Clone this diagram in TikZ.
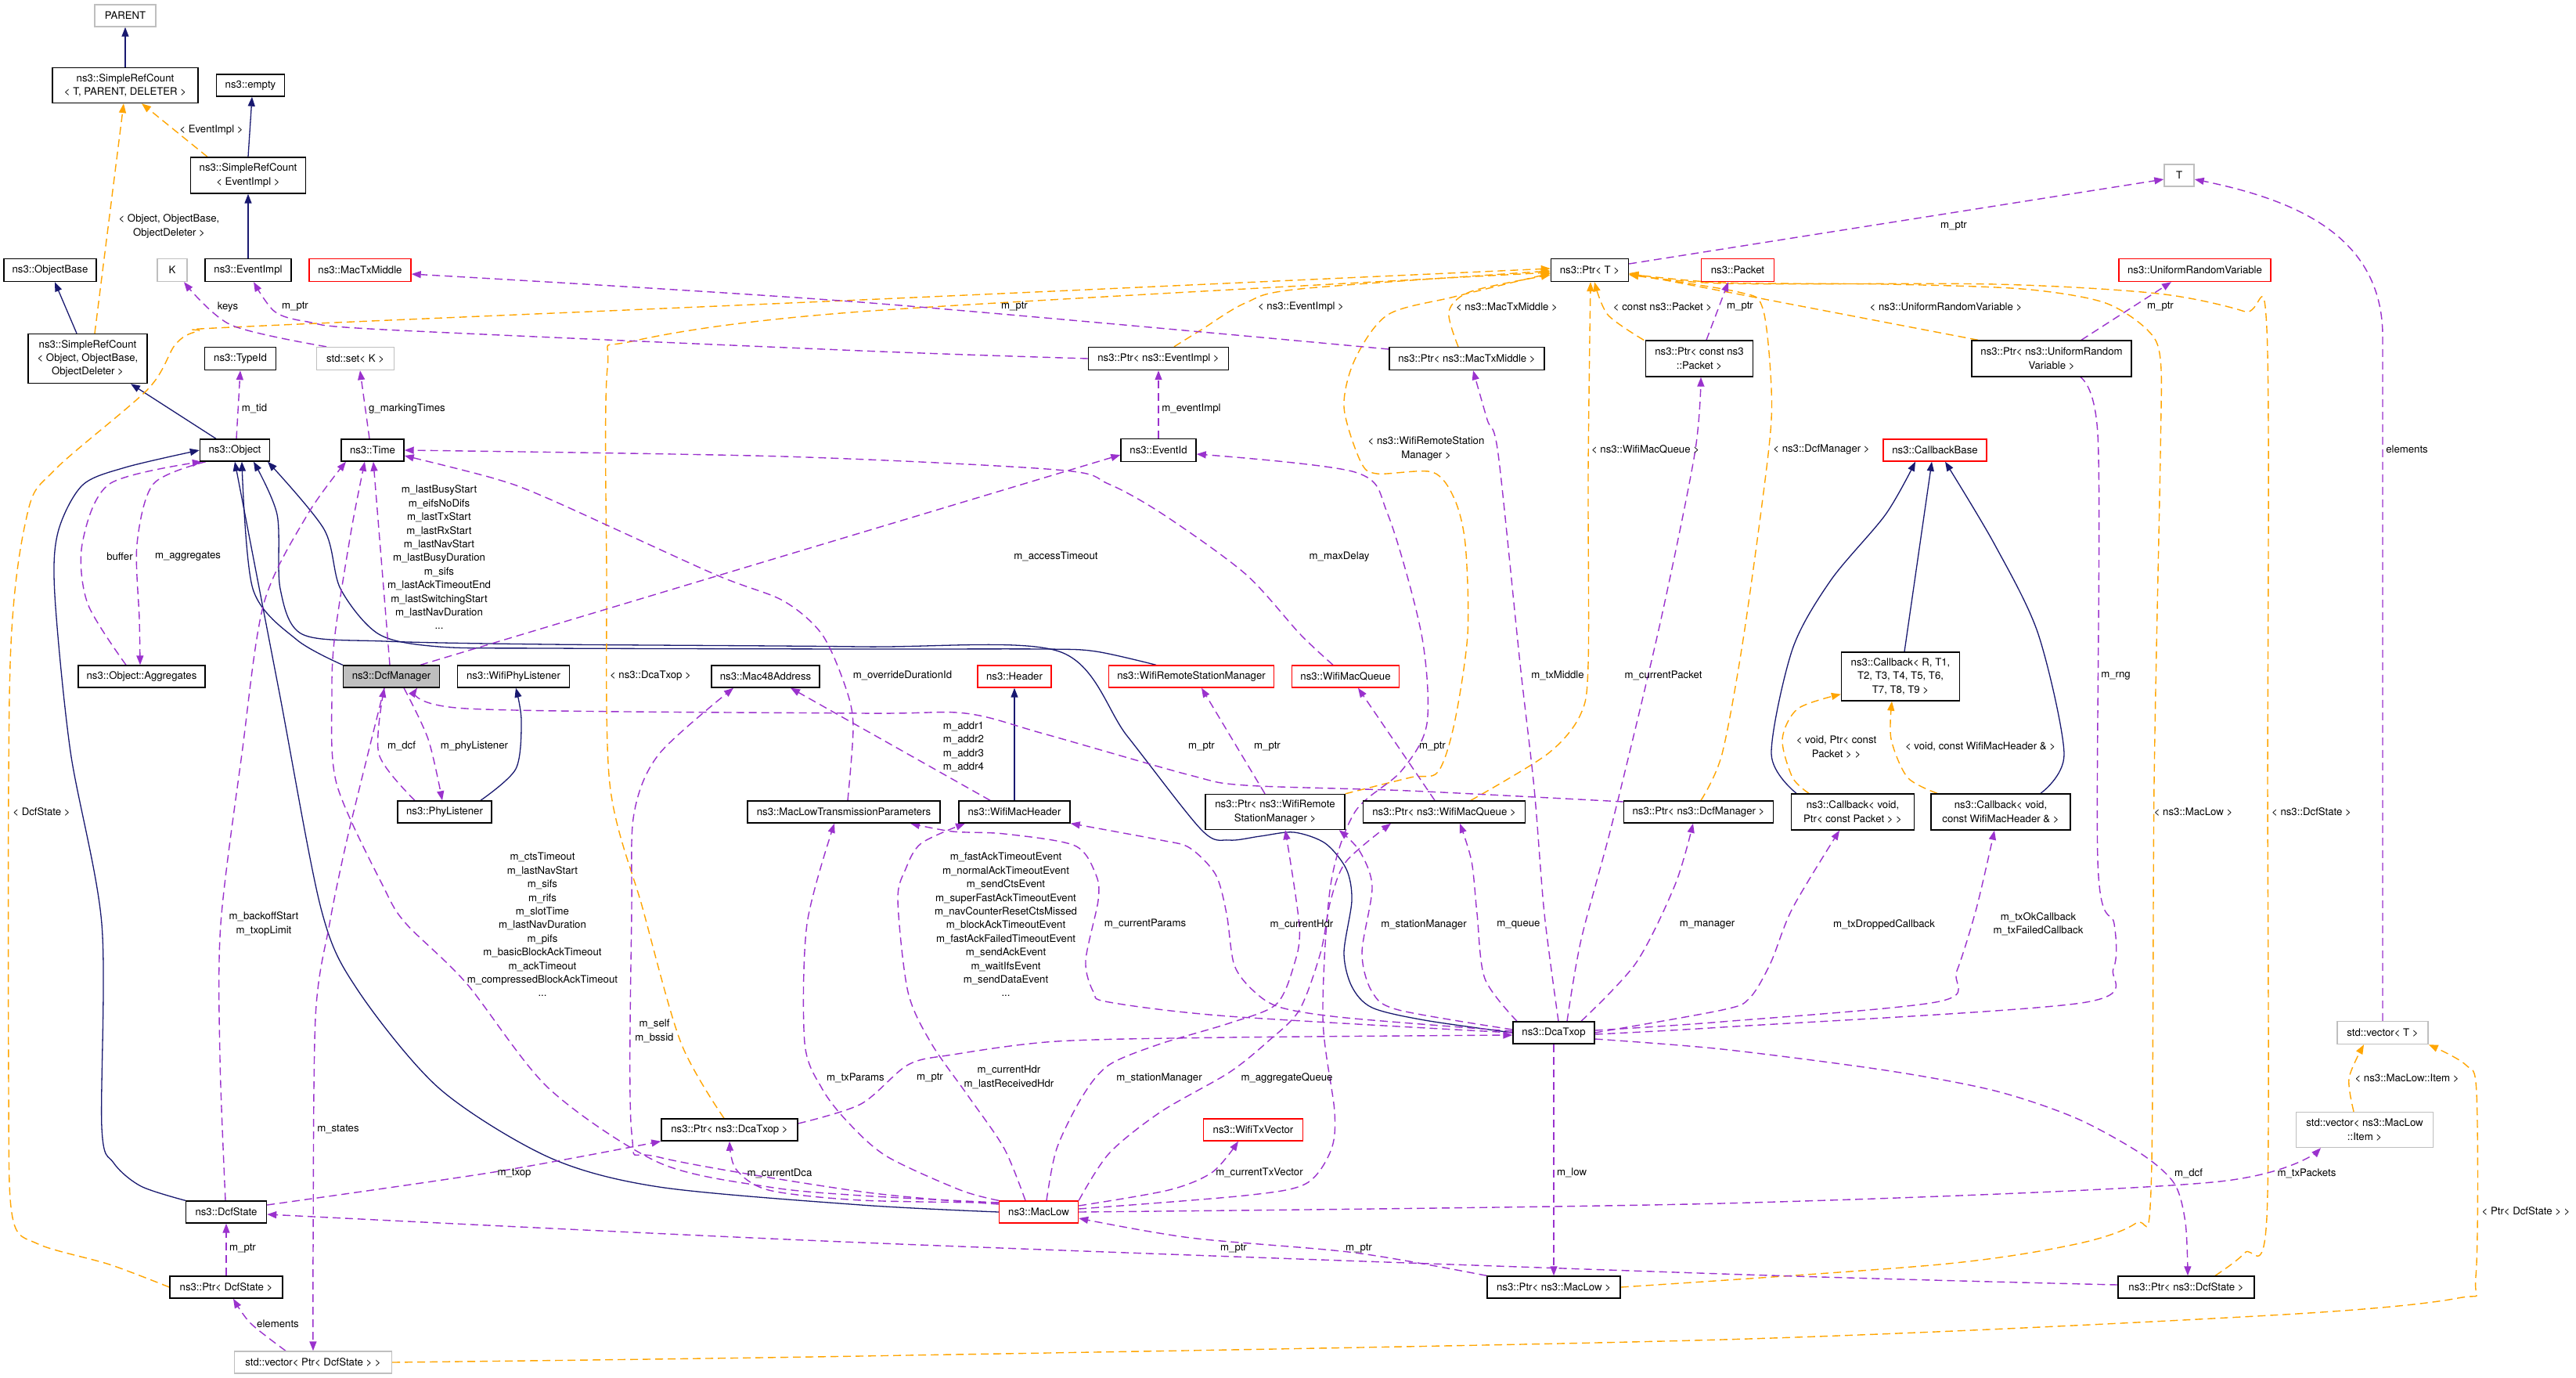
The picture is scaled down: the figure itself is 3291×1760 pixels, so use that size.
\documentclass[tikz,border=0pt]{standalone}
\usepackage{fontspec}
\setmainfont{TeX Gyre Heros}
\usetikzlibrary{arrows.meta}
\definecolor{navyc}{HTML}{191970}
\definecolor{purpc}{HTML}{9A32CD}
\definecolor{orngc}{HTML}{FFA500}
\definecolor{grayc}{HTML}{BFBFBF}
\definecolor{redc}{HTML}{FF0000}
\pgfdeclarelayer{edgelayer}
\pgfsetlayers{edgelayer,main}
\newcommand{\nfont}{\fontsize{13.2pt}{17.4pt}\selectfont}
\newcommand{\mkcls}[6]{\node[#1, minimum width=#2pt, minimum height=#3pt] (#4) at (#5) {#6};}
\newcommand{\mklbl}[3]{\node[lbl] (#1) at (#2) {#3};}
\tikzset{
  boxN/.style={draw=black, line width=1.4pt, fill=white, inner sep=0pt, align=center, font=\nfont},
  redN/.style={boxN, draw=redc},
  grayN/.style={boxN, draw=grayc},
  selN/.style={boxN, fill=grayc},
  lbl/.style={inner sep=0pt, align=center, font=\nfont},
  inhE/.style={draw=navyc, line width=1.3pt, -{Triangle[length=12pt,width=9pt]}},
  useE/.style={draw=purpc, line width=1.4pt, dash pattern=on 10pt off 6pt, -{Triangle[length=12pt,width=9pt]}},
  tplE/.style={draw=orngc, line width=1.4pt, dash pattern=on 10pt off 6pt, -{Triangle[length=12pt,width=9pt]}},
}
\begin{document}
\begin{tikzpicture}[x=1pt,y=-1pt]
\useasboundingbox (0,0) rectangle (3291,1760);
% ---------------- nodes
\mkcls{grayN}{78}{28}{parent}{160,20}{PARENT}
\mkcls{boxN}{186}{45}{srcT}{160,109}{ns3::SimpleRefCount\\< T, PARENT, DELETER >}
\mkcls{boxN}{87}{28}{empty}{320,109}{ns3::empty}
\mkcls{boxN}{147}{46}{srcE}{317,224}{ns3::SimpleRefCount\\< EventImpl >}
\mkcls{boxN}{118}{29}{objbase}{64,345}{ns3::ObjectBase}
\mkcls{grayN}{38}{29}{K}{220,345}{K}
\mkcls{boxN}{110}{29}{eventimpl}{317,345}{ns3::EventImpl}
\mkcls{redN}{130}{29}{mactxmiddle}{460,345}{ns3::MacTxMiddle}
\mkcls{boxN}{152}{63}{srcO}{112,458}{ns3::SimpleRefCount\\< Object, ObjectBase,\\ObjectDeleter >}
\mkcls{boxN}{91}{29}{typeid}{307,458}{ns3::TypeId}
\mkcls{grayN}{99}{29}{setK}{454,458}{std::set< K >}
\mkcls{boxN}{89}{28}{object}{300,575}{ns3::Object}
\mkcls{boxN}{80}{28}{time}{476,575}{ns3::Time}
\mkcls{grayN}{38}{28}{T}{2784,224}{T}
\mkcls{boxN}{99}{29}{ptrT}{2031,345}{ns3::Ptr< T >}
\mkcls{redN}{93}{29}{packet}{2220,345}{ns3::Packet}
\mkcls{redN}{194}{29}{urv}{2804,345}{ns3::UniformRandomVariable}
\mkcls{boxN}{179}{29}{ptrEI}{1480,458}{ns3::Ptr< ns3::EventImpl >}
\mkcls{boxN}{198}{29}{ptrMTM}{1874,458}{ns3::Ptr< ns3::MacTxMiddle >}
\mkcls{boxN}{137}{46}{ptrCP}{2171,458}{ns3::Ptr< const ns3\\::Packet >}
\mkcls{boxN}{204}{46}{ptrURV}{2621,458}{ns3::Ptr< ns3::UniformRandom\\Variable >}
\mkcls{boxN}{96}{29}{eventid}{1480,575}{ns3::EventId}
\mkcls{redN}{132}{28}{cbbase}{2472,575}{ns3::CallbackBase}
\mkcls{boxN}{162}{28}{aggregates}{181,864}{ns3::Object::Aggregates}
\mkcls{selN}{123}{28}{dcfmanager}{500,864}{ns3::DcfManager}
\mkcls{boxN}{143}{28}{wifiphylistener}{656,864}{ns3::WifiPhyListener}
\mkcls{boxN}{138}{28}{mac48}{978,864}{ns3::Mac48Address}
\mkcls{redN}{94}{28}{header}{1296,864}{ns3::Header}
\mkcls{redN}{211}{28}{wrsm}{1522,864}{ns3::WifiRemoteStationManager}
\mkcls{redN}{137}{28}{wmq}{1719,864}{ns3::WifiMacQueue}
\mkcls{boxN}{151}{62}{cbR}{2428,864}{ns3::Callback< R, T1,\\T2, T3, T4, T5, T6,\\T7, T8, T9 >}
\mkcls{boxN}{120}{28}{phylistener}{568,1037}{ns3::PhyListener}
\mkcls{boxN}{246}{28}{mltp}{1078,1037}{ns3::MacLowTransmissionParameters}
\mkcls{boxN}{142}{28}{wifimacheader}{1296,1037}{ns3::WifiMacHeader}
\mkcls{boxN}{178}{45}{ptrWRSM}{1629,1037}{ns3::Ptr< ns3::WifiRemote\\StationManager >}
\mkcls{boxN}{207}{28}{ptrWMQ}{1845,1037}{ns3::Ptr< ns3::WifiMacQueue >}
\mkcls{boxN}{191}{28}{ptrDM}{2170,1037}{ns3::Ptr< ns3::DcfManager >}
\mkcls{boxN}{157}{46}{cbP}{2367,1037}{ns3::Callback< void,\\Ptr< const Packet > >}
\mkcls{boxN}{178}{46}{cbH}{2556,1037}{ns3::Callback< void,\\const WifiMacHeader \& >}
\mkcls{boxN}{104}{28}{dcatxop}{1985,1319}{ns3::DcaTxop}
\mkcls{grayN}{116}{29}{vecT}{3044,1319}{std::vector< T >}
\mkcls{boxN}{174}{28}{ptrDT}{932,1443}{ns3::Ptr< ns3::DcaTxop >}
\mkcls{redN}{127}{28}{wifitxvector}{1601,1443}{ns3::WifiTxVector}
\mkcls{grayN}{175}{45}{vecItem}{3021,1443}{std::vector< ns3::MacLow\\::Item >}
\mkcls{boxN}{103}{28}{dcfstate}{289,1548}{ns3::DcfState}
\mkcls{redN}{101}{28}{maclow}{1327,1548}{ns3::MacLow}
\mkcls{boxN}{144}{28}{ptrDS}{289,1644}{ns3::Ptr< DcfState >}
\mkcls{boxN}{170}{28}{ptrML}{1985,1644}{ns3::Ptr< ns3::MacLow >}
\mkcls{boxN}{174}{28}{ptrNDS}{2793,1644}{ns3::Ptr< ns3::DcfState >}
\mkcls{grayN}{201}{28}{vecDS}{400,1740}{std::vector< Ptr< DcfState > >}
% ---------------- edges
\begin{pgfonlayer}{edgelayer}
\fill[white] (0,0) rectangle (3291,1760);
% inheritance
\draw[inhE] (srcT.north) -- (parent.south);
\draw[inhE] (srcE.north) -- ([xshift=2pt]empty.south);
\draw[inhE] (eventimpl.north) -- (srcE.south);
\draw[inhE] ([xshift=-14pt]srcO.north) -- ([xshift=6pt]objbase.south);
\draw[inhE] ([xshift=-24pt]object.north) -- ([xshift=55pt]srcO.south);
\draw[inhE] plot[smooth] coordinates {(dcfmanager.north west) (379,817) (323,752) ([xshift=9pt]object.south)};
\draw[inhE] plot[smooth] coordinates {(maclow.west) (1100,1539) (842,1516) (701,1478) (561,1390) (456,1263) (410,1160) (356,880) (object.south)};
\draw[inhE] plot[smooth] coordinates {(dcatxop.west) (1820,1303) (1753,1287) (1727,1260) (1717,1217) (1727,1150) (1720,1110) (1693,1077) (1653,1063) (1610,1068) (1570,1073) (1535,1060) (1440,940) (1353,832) (1100,826) (701,823) (491,819) (386,810) (358,752) (354,657) ([xshift=24pt]object.south)};
\draw[inhE] plot[smooth] coordinates {([xshift=-45pt]wrsm.north) (1400,832) (1333,829) (1100,829) (701,828) (561,826) (484,810) (435,752) (414,676) ([xshift=42pt]object.south)};
\draw[inhE] plot[smooth] coordinates {(dcfstate.north west) (180,1515) (145,1485) (130,1440) (130,1180) (90,960) (70,760) (74,680) (105,620) (160,597) (object.west)};
\draw[inhE] plot[smooth] coordinates {([xshift=46pt]phylistener.north) (659,982) (666,920) ([xshift=3pt]wifiphylistener.south)};
\draw[inhE] (wifimacheader.north) -- (header.south);
\draw[inhE] ([xshift=5pt]cbR.north) -- ([xshift=-4pt]cbbase.south);
\draw[inhE] plot[smooth] coordinates {([xshift=-72pt]cbP.north) (2263,963) (2290,829) (2339,741) (2409,657) ([xshift=-25pt]cbbase.south)};
\draw[inhE] plot[smooth] coordinates {([xshift=51pt]cbH.north) (2637,963) (2604,810) (2548,695) ([xshift=13pt]cbbase.south)};
% templates
\draw[tplE] ([xshift=-52pt]srcE.north) -- ([xshift=21pt]srcT.south);
\draw[tplE] ([xshift=9pt]srcO.north) -- ([xshift=-2pt]srcT.south);
\draw[tplE] plot[smooth] coordinates {(ptrDS.west) (140,1615) (49,1589) (16,1555) (11,1390) (13,848) (35,656) (70,600) (189,497) (224,440) (253,423) (316,417) (1100,383) ([yshift=2pt]ptrT.west)};
\draw[tplE] plot[smooth] coordinates {([xshift=-7pt]ptrDT.north) (870,1332) (821,1160) (779,1001) (775,733) (776,470) (807,436) (1100,398) ([yshift=-3pt]ptrT.west)};
\draw[tplE] plot[smooth] coordinates {([xshift=20pt]ptrEI.north) (1535,421) (1591,387) (1661,369) ([yshift=-1pt]ptrT.west)};
\draw[tplE] plot[smooth] coordinates {([xshift=-11pt]ptrMTM.north) (1851,398) (1880,372) ([yshift=-6pt]ptrT.west)};
\draw[tplE] plot[smooth] coordinates {(ptrWRSM.north east) (1802,993) (1837,986) (1858,924) (1875,810) (1872,695) (1858,637) (1830,603) (1759,605) (1738,589) (1717,520) (1731,459) (1773,402) (1858,379) ([yshift=-4pt]ptrT.west)};
\draw[tplE] plot[smooth] coordinates {([xshift=34pt]ptrWMQ.north) (1977,963) (2019,913) (2029,848) (2029,600) ([xshift=1pt]ptrT.south)};
\draw[tplE] plot[smooth] coordinates {([xshift=-71pt]ptrCP.north) (2054,402) ([xshift=6pt]ptrT.south)};
\draw[tplE] ([xshift=-94pt]ptrURV.north) -- ([yshift=-4pt]ptrT.east);
\draw[tplE] plot[smooth] coordinates {([xshift=3pt]ptrDM.north) (2200,963) (2228,810) (2259,580) (2263,497) (2252,394) (2221,373) ([yshift=-6pt]ptrT.east)};
\draw[tplE] plot[smooth] coordinates {(ptrML.east) (2478,1615) (2652,1589) (2729,1562) (2748,1520) (2752,1000) (2760,580) (2760,459) (2743,421) (2687,386) (2583,369) (2409,363) (2200,361) ([yshift=-5pt]ptrT.east)};
\draw[tplE] plot[smooth] coordinates {([xshift=37pt]ptrNDS.north) (2868,1600) (2896,1554) (2897,1000) (2896,421) (2868,398) (2757,375) (2548,363) (2200,362) ([yshift=-5pt]ptrT.east)};
\draw[tplE] plot[smooth] coordinates {([xshift=-56pt]cbP.north) (2290,993) (2277,944) (2297,905) ([yshift=9pt]cbR.south west)};
\draw[tplE] plot[smooth] coordinates {([xshift=-81pt]cbH.north) (2437,993) (2416,944) ([xshift=-11pt]cbR.south)};
\draw[tplE] plot[smooth] coordinates {([xshift=-14pt]vecItem.north) (3001,1377) ([xshift=-24pt]vecT.south)};
\draw[tplE] plot[smooth] coordinates {(vecDS.east) (1100,1732) (2200,1711) (2900,1680) (3140,1658) (3163,1630) (3164,1397) (3150,1360) (vecT.south east)};
% usage
\draw[useE] plot[smooth] coordinates {([xshift=-37pt]setK.north) (295,415) ([xshift=15pt]K.south)};
\draw[useE] plot[smooth] coordinates {(ptrEI.west) (1100,448) (491,421) (393,411) (351,398) ([xshift=7pt]eventimpl.south)};
\draw[useE] plot[smooth] coordinates {([yshift=12pt]ptrMTM.west) (1100,386) ([yshift=-5pt]mactxmiddle.east)};
\draw[useE] ([xshift=2pt]object.north) -- (typeid.south);
\draw[useE] ([xshift=-4pt]time.north) -- ([xshift=6pt]setK.south);
\draw[useE] ([yshift=8pt]ptrT.east) -- ([yshift=-5pt]T.west);
\draw[useE] ([xshift=9pt]ptrCP.north) -- ([xshift=-12pt]packet.south);
\draw[useE] ([xshift=38pt]ptrURV.north) -- ([xshift=-30pt]urv.south);
\draw[useE] (eventid.north) -- (ptrEI.south);
\draw[useE] (vecT.north) -- (3044,430) .. controls (3044,300) and (2930,255) .. ([yshift=-5pt]T.east);
\draw[useE] plot[smooth] coordinates {([xshift=-20pt]aggregates.north) (112,771) (105,695) (140,618) ([xshift=3pt]object.south west)};
\draw[useE] plot[smooth] coordinates {([xshift=8pt]object.south west) (196,618) (175,695) (178,790) ([xshift=-2pt]aggregates.north)};
\draw[useE] ([xshift=-2pt]dcfmanager.north) -- ([xshift=1pt]time.south);
\draw[useE] plot[smooth] coordinates {([yshift=12pt]maclow.west) (1100,1527) (982,1516) (842,1485) (701,1390) (596,1256) (519,1180) (491,1135) (430,1001) (424,886) (428,810) (449,676) ([xshift=-10pt]time.south)};
\draw[useE] plot[smooth] coordinates {([xshift=-1pt]dcfstate.north) (281,1351) (282,1180) (309,963) (337,771) (393,657) ([xshift=-34pt]time.south)};
\draw[useE] plot[smooth] coordinates {([xshift=-9pt]dcfmanager.south) (470,963) (442,1078) (421,1180) (403,1300) (400,1600) (vecDS.north)};
\draw[useE] plot[smooth] coordinates {([xshift=-38pt]phylistener.north) (484,963) ([xshift=-9pt]dcfmanager.south)};
\draw[useE] plot[smooth] coordinates {([xshift=16pt]dcfmanager.south) (547,944) ([xshift=-3pt]phylistener.north)};
\draw[useE] plot[smooth] coordinates {([yshift=13pt]ptrDM.west) (1800,1010) (1591,1003) (1520,990) (1333,937) (1233,911) (1100,911) (596,905) ([xshift=33pt]dcfmanager.south)};
\draw[useE] ([xshift=-13pt]ptrWRSM.north) -- ([xshift=13pt]wrsm.south);
\draw[useE] ([xshift=-12pt]ptrWMQ.north) -- ([xshift=16pt]wmq.south);
\draw[useE] plot[smooth] coordinates {([xshift=-16pt]wmq.north) (1661,810) (1591,733) (1486,657) (1416,618) (1350,600) (1000,583) (time.east)};
\draw[useE] plot[smooth] coordinates {([xshift=5pt]mltp.north) (1090,927) (1080,877) (1050,810) (1000,767) (912,733) (701,637) (631,611) ([yshift=-7pt]time.east)};
\draw[useE] ([xshift=37pt]dcfmanager.north) -- ([yshift=-6pt]eventid.west);
\draw[useE] plot[smooth] coordinates {([yshift=4pt]maclow.east) (1590,1527) (1668,1512) (1700,1470) (1705,1420) (1690,1300) (1700,1130) (1731,1037) (1790,985) (1823,924) (1816,810) (1773,657) (1731,603) ([yshift=-5pt]eventid.east)};
\draw[useE] plot[smooth] coordinates {([yshift=10pt]maclow.west) (1100,1522) (842,1478) (807,1447) (807,1160) (810,1039) (842,963) ([xshift=-41pt]mac48.south)};
\draw[useE] plot[smooth] coordinates {(maclow.north west) (1227,1520) (1133,1477) (1083,1433) (1050,1390) (1028,1332) (1031,1180) ([xshift=-12pt]mltp.south)};
\draw[useE] plot[smooth] coordinates {([xshift=-17pt]maclow.north) (1283,1467) (1237,1400) (1190,1333) (1160,1267) (1147,1150) (1157,1110) (1177,1077) ([xshift=-63pt]wifimacheader.south)};
\draw[useE] plot[smooth] coordinates {([xshift=10pt]maclow.north) (1350,1467) (1383,1400) (1417,1360) (1483,1333) (1570,1307) (1630,1283) (1653,1233) (1660,1183) ([xshift=13pt]ptrWRSM.south)};
\draw[useE] plot[smooth] coordinates {(maclow.north east) (1417,1473) (1483,1420) (1570,1370) (1620,1330) (1660,1290) (1687,1217) (1700,1150) (1720,1100) ([xshift=-68pt]ptrWMQ.south)};
\draw[useE] plot[smooth] coordinates {([yshift=8pt]maclow.east) (1493,1520) (1549,1497) ([xshift=-19pt]wifitxvector.south)};
\draw[useE] plot[smooth] coordinates {([yshift=12pt]maclow.west) (1100,1533) (982,1520) (940,1493) (ptrDT.south)};
\draw[useE] plot[smooth] coordinates {(maclow.east) (2200,1537) (2826,1510) ([xshift=-56pt]vecItem.south)};
\draw[useE] plot[smooth] coordinates {(ptrML.north west) (1731,1600) (1521,1581) ([yshift=-8pt]maclow.east)};
\draw[useE] plot[smooth] coordinates {([yshift=3pt]ptrNDS.west) (2200,1627) (1100,1587) ([yshift=-3pt]dcfstate.east)};
\draw[useE] (ptrDS.north) -- (dcfstate.south);
\draw[useE] plot[smooth] coordinates {([xshift=-35pt]vecDS.north) (320,1690) ([xshift=9pt]ptrDS.south)};
\draw[useE] plot[smooth] coordinates {([yshift=9pt]dcfstate.east) (631,1497) (ptrDT.south west)};
\draw[useE] plot[smooth] coordinates {([yshift=8pt]ptrDT.east) (1100,1410) (1160,1360) (1217,1347) (1350,1330) (1570,1325) ([yshift=-3pt]dcatxop.west)};
\draw[useE] ([xshift=-31pt]wifimacheader.north) -- ([xshift=32pt]mac48.south);
% DcaTxop members
\draw[useE] plot[smooth] coordinates {([xshift=6pt]dcatxop.north) (1973,1167) (1960,1007) (1942,848) (1914,580) (1900,536) ([xshift=8pt]ptrMTM.south)};
\draw[useE] plot[smooth] coordinates {([xshift=17pt]dcatxop.north) (2020,1200) (2060,1050) (2120,800) (2165,580) ([xshift=2pt]ptrCP.south)};
\draw[useE] plot[smooth] coordinates {([xshift=35pt]dcatxop.north) (2090,1230) (2140,1130) ([xshift=-7pt]ptrDM.south)};
\draw[useE] plot[smooth] coordinates {([xshift=-47pt]dcatxop.north) (1897,1250) (1887,1167) (1880,1100) ([xshift=20pt]ptrWMQ.south)};
\draw[useE] plot[smooth] coordinates {([yshift=4pt]dcatxop.west) (1787,1290) (1753,1267) (1740,1217) (1753,1133) (1737,1087) ([xshift=-8pt]ptrWRSM.south east)};
\draw[useE] plot[smooth] coordinates {([yshift=2pt]dcatxop.west) (1720,1300) (1637,1287) (1603,1267) (1577,1233) (1567,1167) (1553,1117) (1520,1083) (1483,1073) (wifimacheader.south east)};
\draw[useE] plot[smooth] coordinates {(dcatxop.west) (1570,1298) (1417,1280) (1397,1267) (1387,1227) (1403,1150) (1400,1117) (1373,1080) (1283,1065) (1217,1062) ([xshift=85pt]mltp.south)};
\draw[useE] (dcatxop.south) -- (ptrML.north);
\draw[useE] plot[smooth] coordinates {([yshift=-8pt]dcatxop.east) (2200,1340) (2409,1367) (2548,1393) (2652,1428) (2736,1474) (2778,1512) (2792,1562) ([xshift=2pt]ptrNDS.north)};
\draw[useE] plot[smooth] coordinates {([yshift=-2pt]dcatxop.east) (2200,1312) (2659,1281) (2700,1237) (2701,1180) (2680,1100) (2680,555) ([xshift=24pt]ptrURV.south)};
\draw[useE] plot[smooth] coordinates {(dcatxop.east) (2200,1290) (2235,1275) (2262,1230) (2290,1160) ([xshift=-17pt]cbP.south)};
\draw[useE] plot[smooth] coordinates {([yshift=3pt]dcatxop.east) (2200,1305) (2478,1279) (2500,1240) (2525,1160) ([xshift=-8pt]cbH.south)};
\end{pgfonlayer}
% ---------------- labels
\mklbl{la1}{270,166}{< EventImpl >}
\mklbl{la2}{216,289}{< Object, ObjectBase,\\ObjectDeleter >}
\mklbl{la3}{291,392}{keys}
\mklbl{la4}{377,392}{m\_ptr}
\mklbl{la5}{325,522}{m\_tid}
\mklbl{la6}{520,522}{g\_markingTimes}
\mklbl{la7}{1296,392}{m\_ptr}
\mklbl{la8}{1662,392}{< ns3::EventImpl >}
\mklbl{la9}{1925,392}{< ns3::MacTxMiddle >}
\mklbl{la10}{2124,392}{< const ns3::Packet >}
\mklbl{la11}{2223,392}{m\_ptr}
\mklbl{la12}{2486,392}{< ns3::UniformRandomVariable >}
\mklbl{la13}{2496,289}{m\_ptr}
\mklbl{la14}{2760,392}{m\_ptr}
\mklbl{la15}{1522,522}{m\_eventImpl}
\mklbl{la16}{1822,573}{< ns3::WifiRemoteStation\\Manager >}
\mklbl{la17}{2102,574}{< ns3::WifiMacQueue >}
\mklbl{la18}{2327,574}{< ns3::DcfManager >}
\mklbl{la19}{3075,574}{elements}
\mklbl{la20}{153,711}{buffer}
\mklbl{la21}{240,711}{m\_aggregates}
\mklbl{la22}{561,712}{m\_lastBusyStart\\m\_eifsNoDifs\\m\_lastTxStart\\m\_lastRxStart\\m\_lastNavStart\\m\_lastBusyDuration\\m\_sifs\\m\_lastAckTimeoutEnd\\m\_lastSwitchingStart\\m\_lastNavDuration\\...}
\mklbl{la23}{1349,711}{m\_accessTimeout}
\mklbl{la24}{1711,711}{m\_maxDelay}
\mklbl{la25}{1990,863}{m\_txMiddle}
\mklbl{la26}{2125,863}{m\_currentPacket}
\mklbl{la27}{2703,863}{m\_rng}
\mklbl{la28}{831,863}{< ns3::DcaTxop >}
\mklbl{la29}{1153,863}{m\_overrideDurationId}
\mklbl{la30}{53,1037}{< DcfState >}
\mklbl{la31}{513,953}{m\_dcf}
\mklbl{la32}{606,953}{m\_phyListener}
\mklbl{la33}{1231,954}{m\_addr1\\m\_addr2\\m\_addr3\\m\_addr4}
\mklbl{la34}{1535,954}{m\_ptr}
\mklbl{la35}{1619,954}{m\_ptr}
\mklbl{la36}{1830,954}{m\_ptr}
\mklbl{la37}{2346,954}{< void, Ptr< const\\Packet > >}
\mklbl{la38}{2530,954}{< void, const WifiMacHeader \& >}
\mklbl{la39}{2802,1037}{< ns3::MacLow >}
\mklbl{la40}{2953,1037}{< ns3::DcfState >}
\mklbl{la41}{693,1181}{m\_ctsTimeout\\m\_lastNavStart\\m\_sifs\\m\_rifs\\m\_slotTime\\m\_lastNavDuration\\m\_pifs\\m\_basicBlockAckTimeout\\m\_ackTimeout\\m\_compressedBlockAckTimeout\\...}
\mklbl{la42}{337,1180}{m\_backoffStart\\m\_txopLimit}
\mklbl{la43}{1285,1181}{m\_fastAckTimeoutEvent\\m\_normalAckTimeoutEvent\\m\_sendCtsEvent\\m\_superFastAckTimeoutEvent\\m\_navCounterResetCtsMissed\\m\_blockAckTimeoutEvent\\m\_fastAckFailedTimeoutEvent\\m\_sendAckEvent\\m\_waitIfsEvent\\m\_sendDataEvent\\...}
\mklbl{la44}{1463,1180}{m\_currentParams}
\mklbl{la45}{1663,1181}{m\_currentHdr}
\mklbl{la46}{1819,1181}{m\_stationManager}
\mklbl{la47}{1940,1181}{m\_queue}
\mklbl{la48}{2181,1181}{m\_manager}
\mklbl{la49}{2407,1181}{m\_txDroppedCallback}
\mklbl{la50}{2604,1180}{m\_txOkCallback\\m\_txFailedCallback}
\mklbl{la51}{836,1317}{m\_self\\m\_bssid}
\mklbl{la52}{1093,1377}{m\_txParams}
\mklbl{la53}{1188,1377}{m\_ptr}
\mklbl{la54}{1289,1376}{m\_currentHdr\\m\_lastReceivedHdr}
\mklbl{la55}{1481,1377}{m\_stationManager}
\mklbl{la56}{1644,1377}{m\_aggregateQueue}
\mklbl{la57}{3075,1377}{< ns3::MacLow::Item >}
\mklbl{la58}{432,1442}{m\_states}
\mklbl{la59}{657,1499}{m\_txop}
\mklbl{la60}{996,1499}{m\_currentDca}
\mklbl{la61}{1609,1498}{m\_currentTxVector}
\mklbl{la62}{2008,1498}{m\_low}
\mklbl{la63}{2796,1499}{m\_dcf}
\mklbl{la64}{2947,1499}{m\_txPackets}
\mklbl{la65}{3227,1547}{< Ptr< DcfState > >}
\mklbl{la66}{310,1595}{m\_ptr}
\mklbl{la67}{1576,1595}{m\_ptr}
\mklbl{la68}{1736,1595}{m\_ptr}
\mklbl{la69}{355,1691}{elements}
\end{tikzpicture}
\end{document}
